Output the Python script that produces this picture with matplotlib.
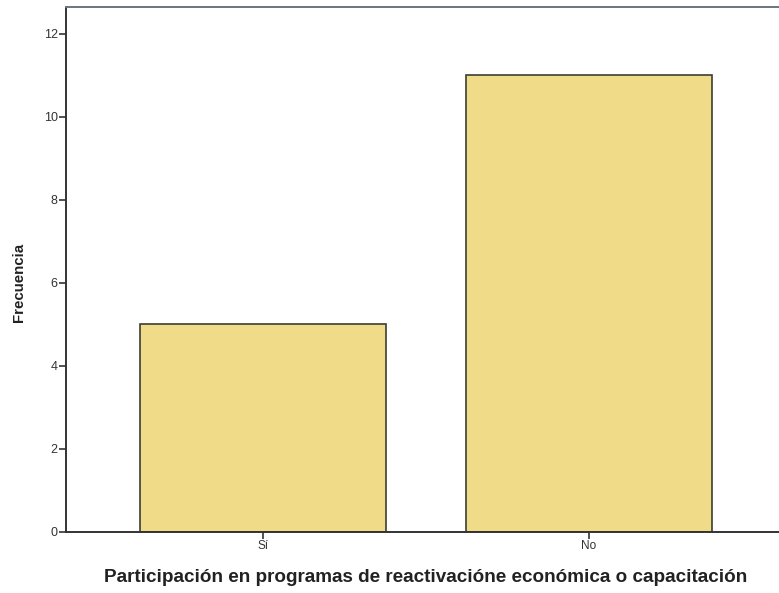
import matplotlib
matplotlib.use("Agg")
import matplotlib.pyplot as plt

categories = ["Sí", "No"]
frecuencia = [5, 11]
y_ticks = [0, 2, 4, 6, 8, 10, 12]

fig = plt.figure(figsize=(7.79, 5.93), dpi=100)
ax = fig.add_axes([66/779, 61/593, 720/779, 525/593])

x = list(range(len(categories)))
ax.bar(x, frecuencia, width=0.755, color="#F0DB88", edgecolor="#3a4030", linewidth=1.2, zorder=2)

ax.set_xlim(-0.604, 1.604)
ax.set_ylim(0, 12.65)
ax.set_xticks(x)
ax.set_xticklabels(categories, fontsize=8.5, family="Liberation Sans", color="#333333")
ax.set_yticks(y_ticks)
ax.set_yticklabels([str(v) for v in y_ticks], fontsize=9, family="Liberation Sans", color="#333333")
ax.tick_params(axis="both", direction="out", length=5, width=1.2, color="#333333", pad=1)

for s in ["left", "bottom"]:
    ax.spines[s].set_color("#333333")
    ax.spines[s].set_linewidth(1.4)
ax.spines["top"].set_color("#6a7580")
ax.spines["top"].set_linewidth(1.4)
ax.spines["right"].set_visible(False)

fig.text(19/779, 311/593, "Frecuencia", rotation=90, ha="center", va="center",
         fontsize=10.8, fontweight="bold", family="Liberation Sans", color="#222222")
ax.set_xlabel("Participación en programas de reactivacióne económica o capacitación", fontsize=13.6,
              fontweight="bold", family="Liberation Sans", color="#222222", labelpad=12)

fig.savefig("out.png", dpi=100)
